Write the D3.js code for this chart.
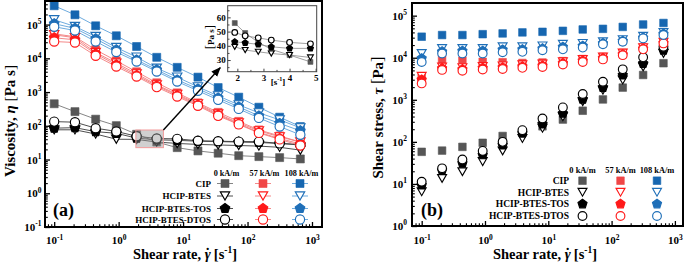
<!DOCTYPE html>
<html><head><meta charset="utf-8">
<script src="https://cdn.jsdelivr.net/npm/d3@7/dist/d3.min.js"></script>
<style>
html,body{margin:0;padding:0;background:#fff;}
svg{display:block;}
svg text{font-family:"Liberation Serif","Times New Roman",serif;font-weight:bold;fill:#000;}
</style></head><body>
<svg id="chart" width="685" height="264"></svg>
<script>
// ---------------- DATA ----------------
const shearRate = [0.1, 0.21, 0.44, 0.92, 1.9, 3.9, 8.1, 17, 35, 73, 150, 315, 660];
const samples = ["CIP", "HCIP-BTES", "HCIP-BTES-TOS", "HCIP-BTES-DTOS"];
const fields = ["0 kA/m", "57 kA/m", "108 kA/m"];

// Panel (a): viscosity [Pa s]
const viscCIP0    = [450, 263, 157, 101, 56, 33, 22.5, 18, 15.4, 13, 12.2, 11.4, 10.4];
const viscBTES0   = [76, 76, 57, 40, 39.5, 33, 30, 28, 27, 26, 25, 23, 19];
const viscTOS0    = [85, 88, 67, 60, 43, 38.5, 37, 35, 34, 33, 32, 30, 28];
const viscDTOS0   = [133, 128, 85, 68, 49, 42, 41, 36, 35, 34, 34, 30, 27];
const viscCIP57   = [53300, 43500, 17900, 8430, 3980, 1880, 946, 478, 250, 135, 75.5, 50, 33];
const viscBTES57  = [49800, 40600, 14900, 7210, 3470, 1640, 855, 447, 225, 122, 71, 47, 33];
const viscTOS57   = [40600, 35400, 13600, 6410, 3130, 1530, 798, 417, 210, 114, 64, 42, 29];
const viscDTOS57  = [31500, 29400, 11900, 5710, 2880, 1400, 735, 390, 197, 110, 61.5, 39.5, 26];
const viscCIP108  = [361000, 195000, 92000, 46600, 22400, 10700, 5400, 2770, 1360, 706, 356, 180, 95];
const viscBTES108 = [139000, 88000, 44400, 20900, 10900, 5100, 2770, 1430, 770, 417, 242, 150, 87];
const viscTOS108  = [106000, 77600, 37900, 17900, 9000, 4560, 2300, 1245, 673, 364, 197, 118, 71];
const viscDTOS108 = [86100, 66800, 31500, 15300, 8040, 4060, 2050, 1090, 587, 317, 171, 95, 54];

// Panel (b): shear stress [Pa]
const stressCIP0    = [58, 62, 76, 95, 138, 166, 234, 339, 550, 1020, 1950, 3890, 7410];
const stressBTES0   = [6.5, 13.5, 19.5, 34, 61, 120, 210, 395, 900, 1700, 2950, 6050, 12600];
const stressTOS0    = [9.4, 21, 31, 49, 84, 160, 265, 475, 1020, 1960, 3870, 7300, 15000];
const stressDTOS0   = [11.3, 23.5, 38, 61, 100, 190, 360, 660, 1370, 2680, 5300, 10200, 18200];
const stressCIP57   = [3300, 9100, 8500, 8000, 7800, 7500, 7700, 8300, 9300, 10500, 13000, 17500, 23500];
const stressBTES57  = [3630, 6000, 5800, 6200, 6400, 6800, 7100, 8000, 9100, 10400, 12900, 17400, 23400];
const stressTOS57   = [3000, 5600, 5300, 5700, 5900, 6200, 6500, 7400, 8500, 9700, 12000, 16500, 22500];
const stressDTOS57  = [2450, 5130, 4900, 5250, 5400, 5750, 6030, 6920, 7940, 9120, 11500, 15800, 21900];
const stressCIP108  = [31600, 34600, 34600, 36300, 37800, 40000, 41300, 43600, 47000, 48600, 54000, 61700, 67000];
const stressBTES108 = [12600, 16600, 16600, 16600, 18200, 18200, 19100, 20900, 21900, 24000, 26900, 32400, 39800];
const stressTOS108  = [9600, 14000, 14500, 14500, 15500, 15800, 16500, 18000, 19000, 22000, 25000, 30000, 37000];
const stressDTOS108 = [7940, 12600, 12600, 12600, 13500, 13800, 15100, 15800, 17400, 20900, 24000, 28800, 34700];

// Inset (0 kA/m, zoomed region)
const insetRate = [1.9, 2.3, 2.8, 3.3, 4.0, 4.8];
const insetCIP  = [56, 49, 42.5, 37.5, 33.5, 28.7];
const insetBTES = [39.3, 37, 35.8, 34.6, 33.5, 31.8];
const insetTOS  = [42.8, 42.1, 41, 39.3, 38.2, 38.2];
const insetDTOS = [49.4, 47, 45.6, 44, 42.4, 41.4];
const zoomRate = [1.85, 4.95];
const zoomVisc = [22.5, 75];

const xTicks = [0.1, 1, 10, 100, 1000];
const yTicksA = [0.1, 1, 10, 100, 1000, 10000, 100000];
const yTicksB = [1, 10, 100, 1000, 10000, 100000];
const insetXTicks = [2, 3, 4, 5];
const insetYTicks = [30, 40, 50, 60];

// ---------------- SETUP ----------------
const viscTable = [[viscCIP0, viscBTES0, viscTOS0, viscDTOS0],
                   [viscCIP57, viscBTES57, viscTOS57, viscDTOS57],
                   [viscCIP108, viscBTES108, viscTOS108, viscDTOS108]];
const stressTable = [[stressCIP0, stressBTES0, stressTOS0, stressDTOS0],
                     [stressCIP57, stressBTES57, stressTOS57, stressDTOS57],
                     [stressCIP108, stressBTES108, stressTOS108, stressDTOS108]];
const series = [];
fields.forEach((f, fi) => samples.forEach((s, si) =>
  series.push({fi, si, visc: viscTable[fi][si], stress: stressTable[fi][si]})));

const svg = d3.select("#chart");
const pA = {l: 45, r: 322, t: 1, b: 227};
const pB = {l: 412, r: 683, t: 3, b: 226};
const xA = d3.scaleLog().domain([0.072, 1430]).range([pA.l, pA.r]);
const yA = d3.scaleLog().domain([0.1, 5e5]).range([pA.b, pA.t]);
const xB = d3.scaleLog().domain([0.0703, 1343]).range([pB.l, pB.r]);
const yB = d3.scaleLog().domain([1, 2e5]).range([pB.b, pB.t]);

const shapeOf = ["square", "triDown", "pentagon", "circle"];
const strokeCol = ["#000000", "#ff1a1a", "#1f6fb8"];
const squareCol = ["#565656", "#f04646", "#1666b0"];
const lineCol = ["#3a3a3a", "#f27c7c", "#5ea2da"];
function fillOf(fi, si) { if (si === 0) return squareCol[fi]; if (si === 2) return strokeCol[fi]; return "#fff"; }
function strokeOf(fi, si) { return si === 0 ? squareCol[fi] : strokeCol[fi]; }

function shapePath(shape, k) {
  const p = d3.path();
  if (shape === "square") { const s = 8 * k; p.rect(-s / 2, -s / 2, s, s); }
  else if (shape === "triDown") { const w = 9.4 * k, h = 8.2 * k; p.moveTo(-w / 2, -h / 2); p.lineTo(w / 2, -h / 2); p.lineTo(0, h / 2); p.closePath(); }
  else if (shape === "pentagon") { const r = 5 * k; for (let i = 0; i < 5; i++) { const a = -Math.PI / 2 + i * 2 * Math.PI / 5; const x = r * Math.cos(a), y = r * Math.sin(a); if (i) p.lineTo(x, y); else p.moveTo(x, y); } p.closePath(); }
  else { const r = 4.6 * k; p.moveTo(r, 0); p.arc(0, 0, r, 0, 2 * Math.PI); p.closePath(); }
  return p.toString();
}
function drawMarker(g, x, y, fi, si, k) {
  g.append("path").attr("transform", `translate(${x},${y})`).attr("d", shapePath(shapeOf[si], k))
    .attr("fill", fillOf(fi, si)).attr("stroke", strokeOf(fi, si)).attr("stroke-width", si === 0 ? 0.6 : 1.15);
}

function logAxis(g, scale, orient, majors, padding, fs) {
  const mk = orient === "bottom" ? d3.axisBottom : d3.axisLeft;
  g.call(mk(scale).tickValues(majors).tickSizeInner(-5).tickSizeOuter(0).tickPadding(padding).tickFormat(() => ""));
  g.select(".domain").remove();
  g.selectAll(".tick line").attr("stroke", "#000").attr("stroke-width", 1.3);
  g.selectAll(".tick text").each(function (d) {
    const t = d3.select(this);
    const e = Math.round(Math.log10(d));
    t.text(null).attr("font-size", fs);
    t.append("tspan").text("10");
    t.append("tspan").attr("font-size", fs * 0.68).attr("dy", -fs * 0.42).text(e);
  });
  const [d0, d1] = scale.domain(); const minors = [];
  for (let e = Math.floor(Math.log10(d0)); e <= Math.ceil(Math.log10(d1)); e++)
    for (let k = 2; k < 10; k++) { const v = k * Math.pow(10, e); if (v > d0 && v < d1) minors.push(v); }
  const mg = g.append("g").call(mk(scale).tickValues(minors).tickSizeInner(-2.8).tickSizeOuter(0).tickFormat(() => ""));
  mg.select(".domain").remove();
  mg.selectAll(".tick line").attr("stroke", "#000").attr("stroke-width", 1.1);
}

function titleWithBrackets(g, x, y, parts, fs, bfs) {
  const t = g.append("text").attr("transform", `translate(${x},${y}) rotate(-90)`).attr("text-anchor", "middle").attr("font-size", fs);
  parts.forEach(p => {
    const ts = t.append("tspan").text(p.t);
    if (p.i) ts.attr("font-style", "italic");
    if (p.b) ts.attr("font-size", bfs).attr("font-weight", "normal");
  });
  return t;
}

// ---------------- PANEL (a) ----------------
const gA = svg.append("g");
const lineA = d3.line().x((d, i) => xA(shearRate[i])).y(d => yA(d));
series.forEach(s => gA.append("path").attr("d", lineA(s.visc)).attr("fill", "none")
  .attr("stroke", (s.fi === 0 && s.si === 0) ? "#777" : lineCol[s.fi]).attr("stroke-width", 0.9));
series.forEach(s => s.visc.forEach((v, i) => drawMarker(gA, xA(shearRate[i]), yA(v), s.fi, s.si, 1)));

// zoom box + arrow
gA.append("rect").attr("x", xA(zoomRate[0])).attr("y", yA(zoomVisc[1]))
  .attr("width", xA(zoomRate[1]) - xA(zoomRate[0])).attr("height", yA(zoomVisc[0]) - yA(zoomVisc[1]))
  .attr("fill", "rgba(150,150,150,0.45)").attr("stroke", "#f29a9a").attr("stroke-width", 1);

const inset = {l: 227.7, r: 316.7, t: 5.7, b: 71.7};
svg.append("defs").append("marker").attr("id", "arr").attr("viewBox", "0 0 10 10").attr("refX", 9).attr("refY", 5)
  .attr("markerWidth", 7).attr("markerHeight", 7).attr("orient", "auto")
  .append("path").attr("d", "M0,1L10,5L0,9Z").attr("fill", "#000");
gA.append("line").attr("x1", xA(zoomRate[1])).attr("y1", yA(zoomVisc[1]))
  .attr("x2", inset.l - 7.5).attr("y2", inset.b - 4).attr("stroke", "#000").attr("stroke-width", 1.4).attr("marker-end", "url(#arr)");

// inset
const gI = svg.append("g");
const xI = d3.scaleLinear().domain([1.63, 5.04]).range([inset.l, inset.r]);
const yI = d3.scaleLinear().domain([21.8, 68.2]).range([inset.b, inset.t]);
gI.append("rect").attr("x", inset.l).attr("y", inset.t).attr("width", inset.r - inset.l).attr("height", inset.b - inset.t)
  .attr("fill", "#fff").attr("stroke", "#444").attr("stroke-width", 1);
const insetSeries = [insetCIP, insetBTES, insetTOS, insetDTOS];
const lineI = d3.line().x((d, i) => xI(insetRate[i])).y(d => yI(d));
insetSeries.forEach(arr => gI.append("path").attr("d", lineI(arr)).attr("fill", "none").attr("stroke", "#888").attr("stroke-width", 0.8));
insetSeries.forEach((arr, si) => arr.forEach((v, i) => drawMarker(gI, xI(insetRate[i]), yI(v), 0, si, 0.62)));
const gIx = gI.append("g").attr("transform", `translate(0,${inset.b})`)
  .call(d3.axisBottom(xI).tickValues(insetXTicks).tickSizeInner(-3).tickSizeOuter(0).tickPadding(2.6).tickFormat(d3.format("d")));
const gIy = gI.append("g").attr("transform", `translate(${inset.l},0)`)
  .call(d3.axisLeft(yI).tickValues(insetYTicks).tickSizeInner(-3).tickSizeOuter(0).tickPadding(2).tickFormat(d3.format("d")));
[gIx, gIy].forEach(g => { g.select(".domain").remove(); g.selectAll(".tick line").attr("stroke", "#444"); g.selectAll(".tick text").attr("font-size", 9); });
const gIxm = gI.append("g").attr("transform", `translate(0,${inset.b})`)
  .call(d3.axisBottom(xI).tickValues([2.5, 3.5, 4.5]).tickSizeInner(-1.8).tickSizeOuter(0).tickFormat(() => ""));
const gIym = gI.append("g").attr("transform", `translate(${inset.l},0)`)
  .call(d3.axisLeft(yI).tickValues([25, 35, 45, 55, 65]).tickSizeInner(-1.8).tickSizeOuter(0).tickFormat(() => ""));
[gIxm, gIym].forEach(g => { g.select(".domain").remove(); g.selectAll(".tick line").attr("stroke", "#444"); });
titleWithBrackets(gI, 214, 37, [{t: "[", b: 1}, {t: "Pa s"}, {t: "]", b: 1}], 9, 13);
const sx = gI.append("text").attr("x", 278).attr("y", 85).attr("text-anchor", "middle").attr("font-size", 9);
sx.append("tspan").text("[s");
sx.append("tspan").attr("font-size", 6.2).attr("dy", -4).text("-1");
sx.append("tspan").attr("dy", 4).text("]");

// frame + axes (a)
svg.append("rect").attr("x", pA.l).attr("y", pA.t).attr("width", pA.r - pA.l).attr("height", pA.b - pA.t)
  .attr("fill", "none").attr("stroke", "#000").attr("stroke-width", 2);
logAxis(svg.append("g").attr("transform", `translate(0,${pA.b})`), xA, "bottom", xTicks, 9.5, 11);
logAxis(svg.append("g").attr("transform", `translate(${pA.l},0)`), yA, "left", yTicksA, 3.5, 11);

// ---------------- PANEL (b) ----------------
const gB = svg.append("g");
series.forEach(s => s.stress.forEach((v, i) => drawMarker(gB, xB(shearRate[i]), yB(v), s.fi, s.si, 0.95)));
svg.append("rect").attr("x", pB.l).attr("y", pB.t).attr("width", pB.r - pB.l).attr("height", pB.b - pB.t)
  .attr("fill", "none").attr("stroke", "#000").attr("stroke-width", 2);
logAxis(svg.append("g").attr("transform", `translate(0,${pB.b})`), xB, "bottom", xTicks, 10.5, 11);
logAxis(svg.append("g").attr("transform", `translate(${pB.l},0)`), yB, "left", yTicksB, 5, 11);

// ---------------- LEGENDS ----------------
function legend(cfg) {
  const g = svg.append("g");
  fields.forEach((f, fi) => g.append("text").attr("x", cfg.cols[fi] + cfg.headDx).attr("y", cfg.headY)
    .attr("text-anchor", "middle").attr("font-size", cfg.hfs).text(f));
  samples.forEach((s, si) => {
    g.append("text").attr("x", cfg.labelX).attr("y", cfg.rows[si] + cfg.fs * 0.34).attr("text-anchor", "end")
      .attr("font-size", cfg.fs).text(s);
    fields.forEach((f, fi) => {
      if (cfg.seg) g.append("line").attr("x1", cfg.cols[fi] - cfg.seg).attr("x2", cfg.cols[fi] + cfg.seg)
        .attr("y1", cfg.rows[si]).attr("y2", cfg.rows[si])
        .attr("stroke", (fi === 0 && si === 0) ? "#777" : lineCol[fi]).attr("stroke-width", 0.9);
      drawMarker(g, cfg.cols[fi], cfg.rows[si], fi, si, cfg.k);
    });
  });
}
legend({cols: [225, 263, 300], rows: [183.5, 196, 208.5, 219.5], headY: 176, headDx: 1.5, labelX: 211, fs: 9, hfs: 8.2, seg: 8, k: 1});
legend({cols: [582.5, 620.5, 657], rows: [180.7, 192.3, 204, 216], headY: 172.5, headDx: 0, labelX: 569, fs: 9.5, hfs: 8.4, seg: 0, k: 0.95});

// ---------------- TITLES ----------------
titleWithBrackets(svg, 15, 121, [{t: "Viscosity, "}, {t: "η", i: 1}, {t: " "}, {t: "[", b: 1}, {t: "Pa s"}, {t: "]", b: 1}], 15, 15.5);
titleWithBrackets(svg, 383, 117.5, [{t: "Shear stress, "}, {t: "τ", i: 1}, {t: " "}, {t: "[", b: 1}, {t: "Pa"}, {t: "]", b: 1}], 15, 16.5);

function xTitle(cx) {
  const t = svg.append("text").attr("x", cx).attr("y", 259).attr("text-anchor", "middle").attr("font-size", 14.5);
  t.append("tspan").text("Shear rate, ");
  t.append("tspan").attr("font-style", "italic").text("γ");
  t.append("tspan").attr("dx", -5.5).attr("dy", -1).text("\u02D9");
  t.append("tspan").attr("dy", 1).text(" [s");
  t.append("tspan").attr("font-size", 9.5).attr("dy", -6).text("-1");
  t.append("tspan").attr("dy", 6).text("]");
}
xTitle(185);
xTitle(545);

svg.append("text").attr("x", 53).attr("y", 216).attr("font-size", 18).text("(a)");
svg.append("text").attr("x", 421).attr("y", 216).attr("font-size", 18).text("(b)");
</script>
</body></html>
